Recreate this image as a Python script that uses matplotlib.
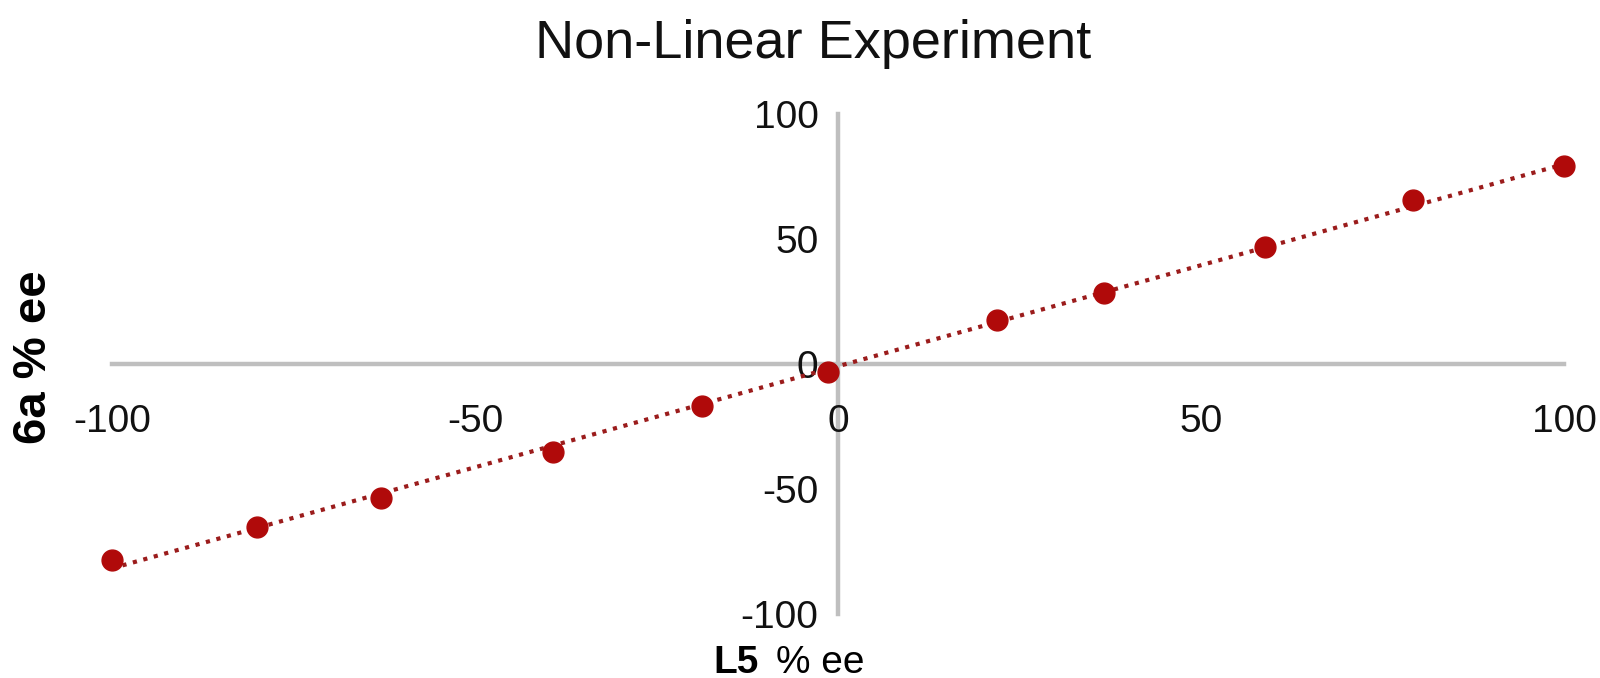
import numpy as np
import matplotlib.pyplot as plt

plt.rcParams['font.family'] = ['Liberation Sans', 'DejaVu Sans']
plt.rcParams['axes.unicode_minus'] = False

# L5 % ee vs 6a % ee
l5_ee = [-100, -80, -63, -39.3, -18.7, -1.4, 21.9, 36.6, 58.8, 79.2, 100]
a6_ee = [-78.2, -65.2, -53.4, -35.1, -16.8, -3.2, 17.7, 28.3, 46.9, 65.4, 79.3]
ticks = [-100, -50, 0, 50, 100]

fig = plt.figure(figsize=(16, 6.78), dpi=100)
ax = fig.add_axes([0.07, 0.094, 0.9075, 0.738])

# linear trendline
k, b = np.polyfit(l5_ee, a6_ee, 1)
xs = np.array([-100, 100])
ax.plot(xs, k * xs + b, color='#9b1c1c', lw=3, linestyle=(0, (1, 1.6)),
        zorder=3, clip_on=False)
ax.plot(l5_ee, a6_ee, 'o', color='#b00a0a', markersize=15, zorder=4, clip_on=False)

ax.set_xlim(-100, 100)
ax.set_ylim(-100, 100)
ax.set_xticks(ticks)
ax.set_yticks(ticks)

for s in ['top', 'right']:
    ax.spines[s].set_visible(False)
ax.spines['left'].set_position(('data', 0))
ax.spines['bottom'].set_position(('data', 0))
for s in ['left', 'bottom']:
    ax.spines[s].set_color('#bfbfbf')
    ax.spines[s].set_linewidth(3.2)
    ax.spines[s].set_zorder(1)

ax.tick_params(axis='both', length=0, labelsize=28, colors='#111111')
ax.tick_params(axis='y', pad=14)
ax.tick_params(axis='x', pad=29)

fig.text(0.508, 0.914, 'Non-Linear Experiment', fontsize=39, color='#111111',
         ha='center', va='baseline')
fig.text(0.021, 0.473, '6a % ee', rotation=90, fontsize=34, fontweight='bold',
         ha='center', va='center')
fig.text(0.446, 0.008, 'L5', fontsize=28, fontweight='bold', ha='left', va='baseline')
fig.text(0.485, 0.008, '% ee', fontsize=28, ha='left', va='baseline')

fig.savefig('out.png', dpi=100)
